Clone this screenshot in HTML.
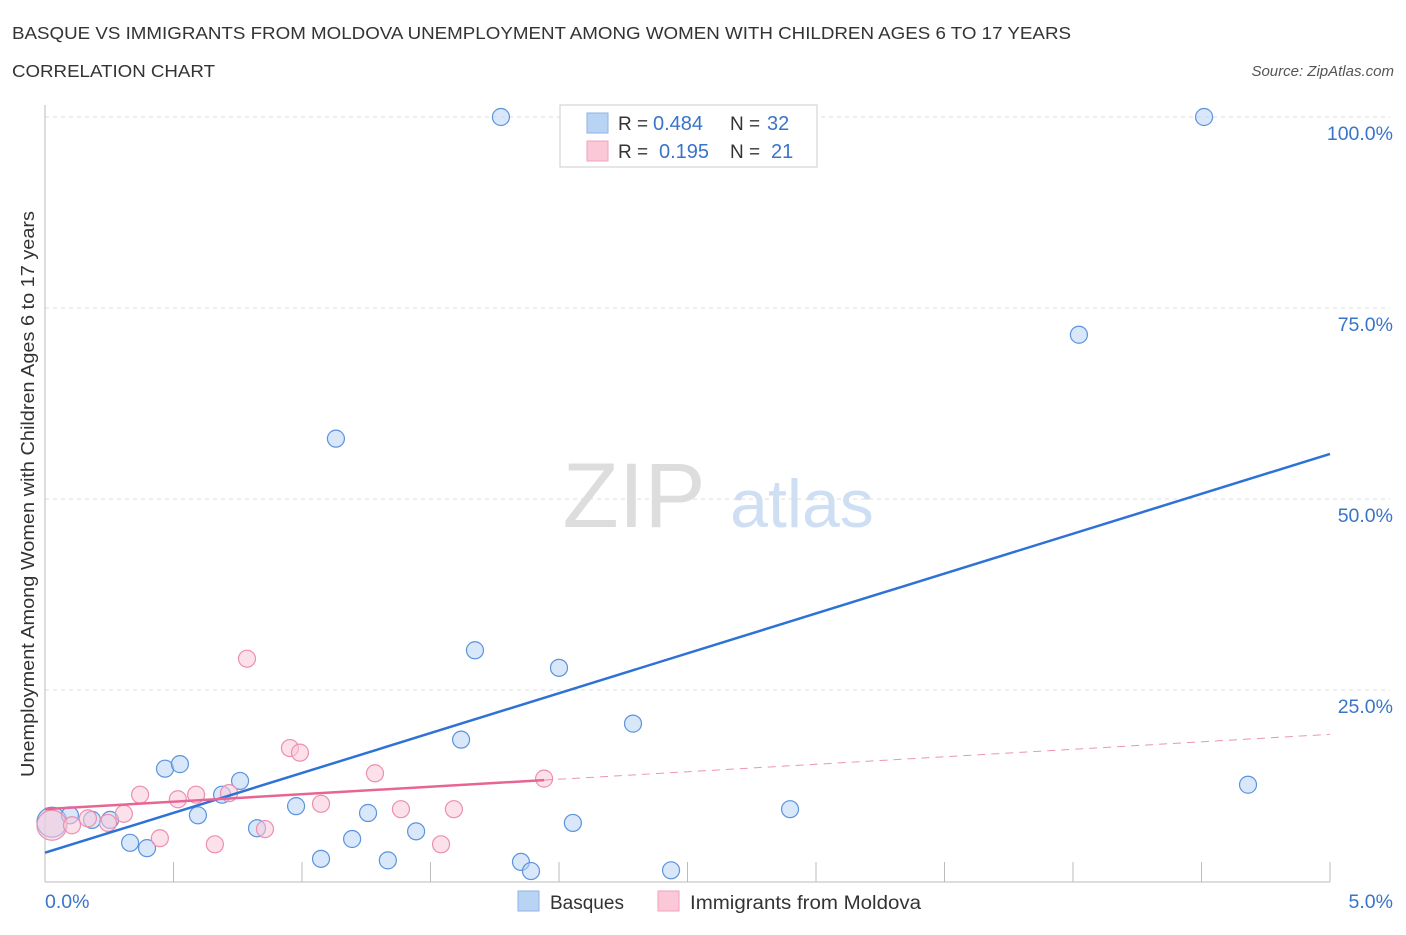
<!DOCTYPE html>
<html><head><meta charset="utf-8">
<style>
body{margin:0;background:#fff;font-family:"Liberation Sans",sans-serif;}
svg text{font-family:"Liberation Sans",sans-serif;}
</style></head><body>
<svg width="1406" height="930" viewBox="0 0 1406 930" xmlns="http://www.w3.org/2000/svg">
<text x="12" y="39" font-size="17.5" fill="#333" textLength="1059" lengthAdjust="spacingAndGlyphs">BASQUE VS IMMIGRANTS FROM MOLDOVA UNEMPLOYMENT AMONG WOMEN WITH CHILDREN AGES 6 TO 17 YEARS</text>
<text x="12" y="77" font-size="17.5" fill="#333" textLength="203" lengthAdjust="spacingAndGlyphs">CORRELATION CHART</text>
<text x="1394" y="76" font-size="15" fill="#555" text-anchor="end" font-style="italic">Source: ZipAtlas.com</text>
<text x="634" y="527" font-size="92" fill="#ddd" text-anchor="middle" font-family="Liberation Serif">ZIP</text>
<text x="802" y="527" font-size="68" fill="#cfdff3" text-anchor="middle">atlas</text>
<g id="grid"></g>
<g id="axes"></g>
<g id="marks"></g>
<text transform="translate(34,494) rotate(-90)" font-size="18.5" fill="#333" text-anchor="middle" textLength="566" lengthAdjust="spacingAndGlyphs">Unemployment Among Women with Children Ages 6 to 17 years</text>
<g>
<rect x="560" y="105" width="257" height="62" fill="#fff" stroke="#ccc"/>
<rect x="587" y="113" width="21" height="20" fill="#b9d3f5" stroke="#8fb3e6"/>
<rect x="587" y="141" width="21" height="20" fill="#fbc8d8" stroke="#f0a2bb"/>
<text x="618" y="130" font-size="19" fill="#333">R =</text>
<text x="653" y="130" font-size="20" fill="#3a74c9">0.484</text>
<text x="730" y="130" font-size="19" fill="#333">N =</text>
<text x="767" y="130" font-size="20" fill="#3a74c9">32</text>
<text x="618" y="158" font-size="19" fill="#333">R =</text>
<text x="659" y="158" font-size="20" fill="#3a74c9">0.195</text>
<text x="730" y="158" font-size="19" fill="#333">N =</text>
<text x="771" y="158" font-size="20" fill="#3a74c9">21</text>
</g>
<g>
<rect x="518" y="891" width="21" height="20" fill="#b9d3f5" stroke="#8fb3e6"/>
<text x="550" y="909" font-size="19" fill="#333">Basques</text>
<rect x="658" y="891" width="21" height="20" fill="#fbc8d8" stroke="#f0a2bb"/>
<text x="690" y="909" font-size="19" fill="#333" textLength="231" lengthAdjust="spacingAndGlyphs">Immigrants from Moldova</text>
</g>
</svg>
<script>
const blueX=[0.027,0.097,0.183,0.253,0.331,0.397,0.467,0.525,0.595,0.689,0.759,0.825,0.977,1.074,1.132,1.195,1.257,1.334,1.444,1.619,1.673,1.774,1.852,1.891,2.000,2.054,2.288,2.436,2.899,4.023,4.510,4.681];
const blueY=[7.7,8.6,8.0,8.0,5.0,4.3,14.7,15.3,8.6,11.3,13.1,6.9,9.8,2.9,57.9,5.5,8.9,2.7,6.5,18.5,30.2,100,2.5,1.3,27.9,7.6,20.6,1.4,9.4,71.5,100,12.6];
const pinkX=[0.027,0.105,0.167,0.245,0.307,0.370,0.447,0.517,0.588,0.661,0.716,0.786,0.856,0.953,0.992,1.074,1.284,1.385,1.541,1.591,1.942];
const pinkY=[7.3,7.3,8.2,7.6,8.8,11.3,5.6,10.7,11.3,4.8,11.5,29.1,6.8,17.4,16.8,10.1,14.1,9.4,4.8,9.4,13.4];
const blueTrend=[3.7,10.44];
const pinkTrend=[9.4,1.96];
const yTicks=[25,50,75,100];
const yTickLabels=["25.0%","50.0%","75.0%","100.0%"];
const xTicks=[0,0.5,1,1.5,2,2.5,3,3.5,4,4.5,5];

const NS="http://www.w3.org/2000/svg";
const X=v=>45+v*1285/5;
const Y=v=>881-v*7.64;
function mk(parent,tag,attrs){const e=document.createElementNS(NS,tag);for(const k in attrs)e.setAttribute(k,attrs[k]);document.getElementById(parent).appendChild(e);return e;}
yTicks.forEach((t,i)=>{
 const l=mk('grid','line',{x1:45,x2:1390,y1:Y(t),y2:Y(t),stroke:'#ddd','stroke-dasharray':'4,4'});
 
 
 const tx=mk('grid','text',{x:1393,y:Y(t)+23,'font-size':19.5,fill:'#3a74c9','text-anchor':'end'});
 tx.textContent=yTickLabels[i];
 
 
});
let a=mk('axes','line',{x1:45,x2:45,y1:105,y2:882,stroke:'#bbb'});


a=mk('axes','line',{x1:45,x2:1330,y1:882,y2:882,stroke:'#bbb'});


xTicks.forEach(t=>{
 const l=mk('axes','line',{x1:X(t),x2:X(t),y1:862,y2:882,stroke:'#bbb'});
 
 
});
let t0=mk('axes','text',{x:45,y:908,'font-size':19.5,fill:'#3a74c9'});t0.textContent='0.0%';


let t1=mk('axes','text',{x:1393,y:908,'font-size':19.5,fill:'#3a74c9','text-anchor':'end'});t1.textContent='5.0%';



function dots(xs,ys,fill,stroke,name){
 xs.forEach((x,i)=>{
  const c=mk('marks','circle',{cx:X(x),cy:Y(ys[i]),r:i===0?15:8.5,fill:fill,'fill-opacity':0.55,stroke:stroke,'stroke-width':1.2});
  
  
 });
}
dots(blueX,blueY,'#b9d3f5','#5b93dd','basque-point');
dots(pinkX,pinkY,'#fbc8d8','#ec8fae','moldova-point');
let bl=mk('marks','line',{x1:X(0),y1:Y(blueTrend[0]),x2:X(5),y2:Y(blueTrend[0]+5*blueTrend[1]),stroke:'#2f72d6','stroke-width':2.5});


const pm=Math.max(...pinkX);
let pl=mk('marks','line',{x1:X(0),y1:Y(pinkTrend[0]),x2:X(pm),y2:Y(pinkTrend[0]+pm*pinkTrend[1]),stroke:'#e76595','stroke-width':2.5});


let pd=mk('marks','line',{x1:X(pm),y1:Y(pinkTrend[0]+pm*pinkTrend[1]),x2:X(5),y2:Y(pinkTrend[0]+5*pinkTrend[1]),stroke:'#e76595','stroke-width':1,'stroke-dasharray':'8,6','stroke-opacity':0.7});


</script>
</body></html>
